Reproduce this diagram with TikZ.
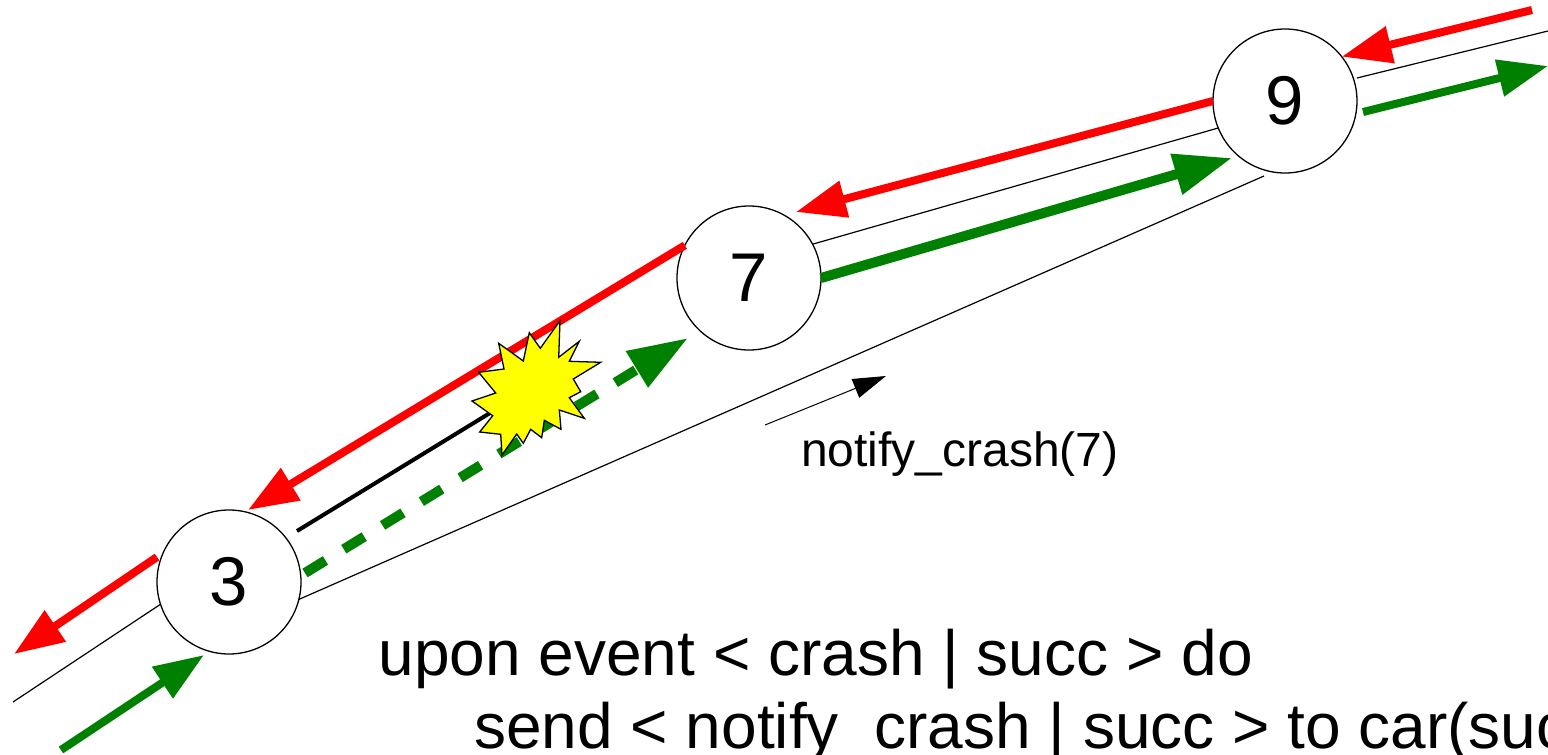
\documentclass[tikz,border=0pt]{standalone}
\usepackage{fontspec}
\setsansfont{Liberation Sans}
\usetikzlibrary{arrows.meta}
\definecolor{dkgreen}{RGB}{0,128,0}
\definecolor{crashyellow}{RGB}{255,255,0}
\definecolor{msgred}{RGB}{255,0,0}
\tikzset{
  proc/.style={draw, circle, fill=white, line width=1.3pt, minimum size=144pt, inner sep=0pt, outer sep=0pt, font=\fontsize{69}{72}\sffamily},
  link/.style={line width=1.2pt},
  redarrow/.style={msgred, line width=8pt, -{Triangle[length=50pt,width=36pt]}},
  greenarrow/.style={dkgreen, line width=8pt, -{Triangle[length=50pt,width=36pt]}},
  thickgreen/.style={dkgreen, line width=10pt, -{Triangle[length=58pt,width=40pt]}},
  code/.style={anchor=base west, inner sep=0pt, font=\fontsize{64}{72}\sffamily}
}
\begin{document}
\begin{tikzpicture}[x=1pt,y=-1pt,font=\sffamily]
  \path[use as bounding box, clip] (0,0) rectangle (1548,755);
  \node[proc] (p3) at (229,582) {3};
  \node[proc] (p7) at (749,278) {7};
  \node[proc] (p9) at (1285,101) {9};
  % free ends
  \coordinate (inred) at (1532,10);
  \coordinate (outlink) at (1548,31);
  \coordinate (outgreen) at (1548,66);
  \coordinate (tip97) at (796,212);
  \coordinate (tip79) at (1232,158);
  \coordinate (tip73) at (248,510);
  \coordinate (tip37) at (688,338);
  \coordinate (start3) at (297,531);
  \coordinate (stop3) at (490,413);
  \coordinate (dash3) at (305,573);
  \coordinate (start9) at (1363,112);
  \coordinate (link9) at (1357,78);
  \coordinate (long9) at (1264,176);
  \coordinate (red3) at (157,557);
  \coordinate (outred) at (14,654);
  \coordinate (outlink3) at (13,702);
  \coordinate (ingreen) at (61,750);
  \coordinate (tipin) at (204,655);
  \coordinate (notea) at (765,425);
  \coordinate (noteb) at (886,376);
  % links
  \draw[link] (p3.198) -- (outlink3);
  \draw[link] (p3.-14) -- (long9);
  \draw[link] (p7.28) -- (p9.202);
  \draw[link] (link9) -- (outlink);
  \draw[line width=4pt] (start3) -- (stop3);
  % messages
  \draw[redarrow] (inred) -- (p9.38);
  \draw[redarrow] (p9.180) -- (tip97);
  \draw[redarrow] (p7.153) -- (tip73);
  \draw[redarrow] (red3) -- (outred);
  \draw[greenarrow] (ingreen) -- (tipin);
  \draw[thickgreen] (p7.0) -- (tip79);
  \draw[greenarrow] (start9) -- (outgreen);
  \draw[thickgreen, dash pattern=on 24pt off 21.5pt, -{Triangle[length=60pt,width=40pt]}] (dash3) -- (tip37);
  % crash
  \draw[fill=crashyellow, line width=1.3pt] (560,320.7) -- (558.7,357.3) -- (579.3,341.3) -- (569.3,361.3) -- (600.7,362.3) -- (573.3,379) -- (580.7,391.7) -- (569.3,397.7) -- (584.3,418.3) -- (559.3,410) -- (561,429.3) -- (544.3,420.3) -- (541.7,437.7) -- (530.7,429.3) -- (523.3,443.3) -- (516.7,434) -- (502,455) -- (500.7,434.3) -- (479.7,432) -- (492.7,415.7) -- (472,401) -- (495.7,393) -- (478.7,372.3) -- (504,369) -- (498.7,343.3) -- (523.3,361) -- (529.3,332.7) -- (540.3,348.3) -- cycle;
  \draw[line width=1pt, -{Triangle[length=33pt,width=20pt]}] (notea) -- (noteb);
  \node[anchor=base west, inner sep=0pt, font=\fontsize{48}{50}\sffamily] (note) at (801,466) {notify\_crash(7)};
  \node[code] (upon) at (378.5,675) {upon event < crash | succ > do};
  \node[code] (send) at (474,748) {send < notify\_crash | succ > to car(succ)};
\end{tikzpicture}
\end{document}
